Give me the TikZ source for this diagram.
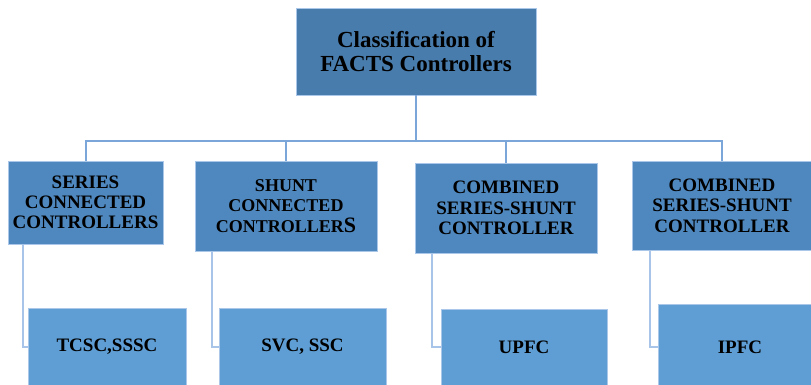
\documentclass[tikz,border=0pt]{standalone}
\usepackage{fontspec}
\setmainfont{Liberation Serif}
\definecolor{topblue}{RGB}{72,124,172}
\definecolor{midblue}{RGB}{79,136,191}
\definecolor{lowblue}{RGB}{94,158,212}
\definecolor{edgeblue}{RGB}{170,198,232}
\definecolor{busblue}{RGB}{122,166,218}
\definecolor{subblue}{RGB}{168,196,232}
\tikzset{
  boxbase/.style={rectangle, draw=edgeblue, line width=0.6pt, inner sep=0pt, align=center, text=black},
  topbox/.style={boxbase, fill=topblue, font=\bfseries\fontsize{23}{24}\selectfont},
  midbox/.style={boxbase, fill=midblue, font=\bfseries\fontsize{19}{20.5}\selectfont},
  lowbox/.style={boxbase, fill=lowblue, font=\bfseries\fontsize{19}{20}\selectfont},
  busline/.style={draw=busblue, line width=2pt},
  subline/.style={draw=subblue, line width=1.6pt},
}
\begin{document}
\begin{tikzpicture}[x=1pt,y=-1pt]
\useasboundingbox (0,0) rectangle (811,385);
% top
\node[topbox, minimum width=240pt, minimum height=87pt] (top) at (416,51.5)
  {Classification of\\ FACTS Controllers};
% level 2
\node[midbox, minimum width=155pt, minimum height=83pt, font=\bfseries\fontsize{19}{20}\selectfont] (s1) at (85.5,202.5)
  {SERIES\\ CONNECTED\\ CONTROLLERS};
\node[midbox, minimum width=182pt, minimum height=90pt, font=\bfseries\fontsize{18}{20.5}\selectfont] (s2) at (286,206)
  {SHUNT\\ CONNECTED\\ CONTROLLER{\fontsize{22}{20.5}\selectfont S}};
\node[midbox, minimum width=182pt, minimum height=90pt] (s3) at (506,208)
  {COMBINED\\ SERIES-SHUNT\\ CONTROLLER};
\node[midbox, minimum width=180pt, minimum height=89pt] (s4) at (722,205.5)
  {COMBINED\\ SERIES-SHUNT\\ CONTROLLER};
% level 3
\node[lowbox, minimum width=158pt, minimum height=78pt] (t1) at (107,347)
  {TCSC,SSSC};
\node[lowbox, minimum width=167pt, minimum height=78pt] (t2) at (302.5,347)
  {SVC, SSC};
\node[lowbox, minimum width=166pt, minimum height=76pt] (t3) at (524,347)
  {UPFC};
\node[lowbox, minimum width=164pt, minimum height=86pt] (t4) at (740,347)
  {IPFC};
% bus
\coordinate (bus) at (416,140.7);
\draw[busline] (top.south) -- (top.south |- bus);
\draw[busline] (s1.north) -- (s1.north |- bus) -| (s4.north);
\draw[busline] (s2.north) -- (s2.north |- bus);
\draw[busline] (s3.north) -- (s3.north |- bus);
% sub connectors
\draw[subline] ([xshift=15pt]s1.south west) |- (t1.west);
\draw[subline] ([xshift=17pt]s2.south west) |- (t2.west);
\draw[subline] ([xshift=17pt]s3.south west) |- (t3.west);
\draw[subline] ([xshift=18pt]s4.south west) |- (t4.west);
\end{tikzpicture}
\end{document}
